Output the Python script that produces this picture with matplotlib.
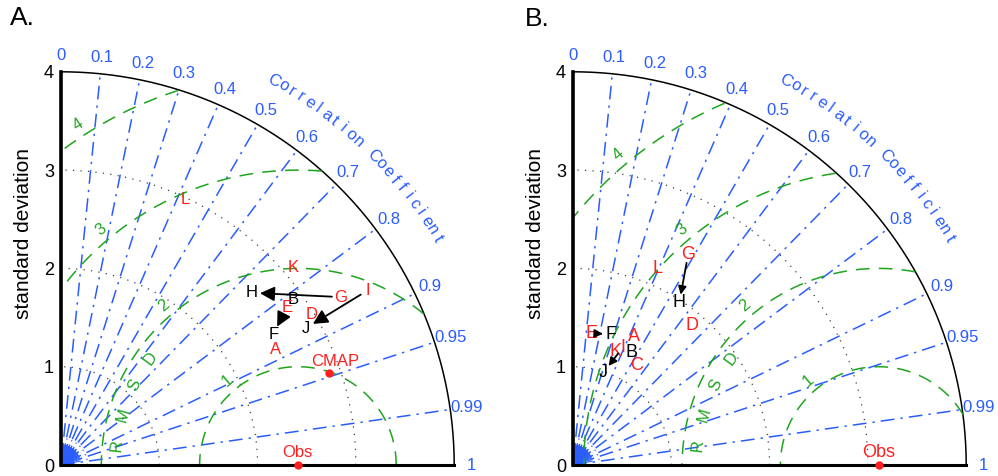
import numpy as np
import matplotlib.pyplot as plt

plt.rcParams['font.family'] = ['Liberation Sans', 'DejaVu Sans']

# correlation and std axes
corr_ticks = [0, 0.1, 0.2, 0.3, 0.4, 0.5, 0.6, 0.7, 0.8, 0.9, 0.95, 0.99, 1]
corr_labels = ['0', '0.1', '0.2', '0.3', '0.4', '0.5', '0.6', '0.7', '0.8', '0.9', '0.95', '0.99', '1']
corr_lines = [0.1, 0.2, 0.3, 0.4, 0.5, 0.6, 0.7, 0.8, 0.9, 0.95, 0.99]
std_ticks = [0, 1, 2, 3, 4]
std_circles = [1, 2, 3]
rmsd_levels = [1, 2, 3, 4]

# panel A
obs_a = 2.41
names_a = ['A', 'B', 'D', 'E', 'F', 'G', 'H', 'I', 'J', 'K', 'L']
std_a = [2.474, 2.897, 2.974, 2.802, 2.537, 3.315, 2.613, 3.592, 2.852, 3.100, 2.980]
corr_a = [0.881, 0.815, 0.857, 0.821, 0.851, 0.857, 0.742, 0.869, 0.873, 0.761, 0.423]
arrows_a = [('G', 'H'), ('I', 'J'), ('E', 'F')]
cmap_std = 2.887
cmap_corr = 0.946

# panel B
obs_b = 3.11
names_b = ['A', 'B', 'C', 'D', 'E', 'F', 'G', 'H', 'I', 'J', 'K', 'L']
std_b = [1.449, 1.284, 1.201, 1.866, 1.353, 1.386, 2.439, 1.972, 1.304, 0.990, 1.228, 2.177]
corr_b = [0.428, 0.460, 0.541, 0.648, 0.140, 0.281, 0.480, 0.548, 0.391, 0.313, 0.350, 0.395]
arrows_b = [('G', 'H'), ('E', 'F'), ('I', 'J')]

black_names = {'B', 'F', 'H', 'J'}

BLUE = '#2a5cff'
GREEN = '#1ea51e'
RED = '#ff1f1f'
RMAX = 4.0
PX = 98.3  # pixels per std unit


def xy(s, c):
    th = np.arccos(c)
    return s * np.cos(th), s * np.sin(th)


def taylor_panel(ax, obs, names, stds, corrs, arrows, fs, head):
    ax.set_xlim(0, 4.75)
    ax.set_ylim(0, 4.7)
    for side in ['top', 'right']:
        ax.spines[side].set_visible(False)
    ax.spines['left'].set_linewidth(2.6)
    ax.spines['bottom'].set_linewidth(2.2)
    ax.spines['left'].set_bounds(0, RMAX)
    ax.spines['bottom'].set_bounds(0, RMAX)
    ax.set_xticks([])
    ax.set_yticks(std_ticks)
    ax.tick_params(axis='y', length=0, pad=5, labelsize=13)
    ax.set_ylabel('standard deviation', fontsize=15, labelpad=8)

    th = np.linspace(0, np.pi / 2, 300)
    ax.plot(RMAX * np.cos(th), RMAX * np.sin(th), color='k', lw=1.1)

    # std circles
    for r in std_circles:
        ax.plot(r * np.cos(th), r * np.sin(th), color='0.25', lw=0.9,
                linestyle=(0, (1, 5)))
    ax.plot(0.27 * np.cos(th), 0.27 * np.sin(th), color=BLUE, lw=0.9,
            linestyle=(0, (1, 3)))

    # fan of minor correlation ticks at the origin
    for c in np.arange(0.0, 1.0, 0.02):
        x, y = xy(1.0, c)
        ax.plot([0.03 * x, 0.2 * x], [0.03 * y, 0.2 * y], color=BLUE, lw=0.8)

    # correlation rays
    for c in corr_lines:
        x, y = xy(RMAX, c)
        ax.plot([0, x], [0, y], color=BLUE, lw=1.1,
                linestyle=(0, (9, 4, 1.5, 4)))

    for c, lab in zip(corr_ticks, corr_labels):
        x, y = xy(4.17, c)
        ax.text(x, y, lab, color=BLUE, fontsize=12, ha='center', va='center',
                clip_on=False)

    # curved axis title
    title = 'Correlation Coefficient'
    angs = np.linspace(61.0, 31.0, len(title))
    for ch, a in zip(title, angs):
        ar = np.deg2rad(a)
        ax.text(4.47 * np.cos(ar), 4.47 * np.sin(ar), ch, color=BLUE,
                fontsize=12, rotation=a - 90, ha='center', va='center',
                rotation_mode='anchor', clip_on=False)

    # RMSD circles around the observation
    t = np.linspace(0, np.pi, 800)
    for r in rmsd_levels:
        x = obs + r * np.cos(t)
        y = r * np.sin(t)
        keep = (x >= 0) & (x ** 2 + y ** 2 <= RMAX ** 2)
        x = np.where(keep, x, np.nan)
        y = np.where(keep, y, np.nan)
        ax.plot(x, y, color=GREEN, lw=1.1, linestyle=(0, (9, 6)))

        rl = r + 0.12
        a = np.deg2rad(130)
        lx, ly = obs + rl * np.cos(a), rl * np.sin(a)
        if lx < 0.15:
            lx = 0.17
            ly = np.sqrt(rl ** 2 - (obs - lx) ** 2)
        rot = np.degrees(np.arctan2(ly, lx - obs)) - 90
        ax.text(lx, ly, str(r), color=GREEN, fontsize=12, rotation=rot,
                ha='center', va='center')

    for ch, a in zip('RMSD', [174, 164, 154, 144]):
        ar = np.deg2rad(a)
        ax.text(obs + 1.85 * np.cos(ar), 1.85 * np.sin(ar), ch, color=GREEN,
                fontsize=12, rotation=a - 90, ha='center', va='center')

    # model points
    pos = {}
    for n, s, c in zip(names, stds, corrs):
        x, y = xy(s, c)
        pos[n] = (x, y)
        ax.text(x, y, n, color='k' if n in black_names else RED, fontsize=fs,
                ha='center', va='center')
    for src, dst in arrows:
        ax.annotate('', xy=pos[dst], xytext=pos[src],
                    arrowprops=dict(arrowstyle='-|>', color='k', lw=1.3,
                                    mutation_scale=head, shrinkA=6, shrinkB=6))

    ax.plot([obs], [0], 'o', color=RED, ms=5, clip_on=False, zorder=5)
    ax.text(obs, 0.13, 'Obs', color=RED, fontsize=fs, ha='center', va='center')


fig = plt.figure(figsize=(9.98, 4.76), dpi=100)
w = 4.75 * PX / 998
h = 4.7 * PX / 476
ax_a = fig.add_axes([61 / 998, 11 / 476, w, h])
ax_b = fig.add_axes([573 / 998, 11 / 476, w, h])
for ax in (ax_a, ax_b):
    ax.patch.set_visible(False)

taylor_panel(ax_a, obs_a, names_a, std_a, corr_a, arrows_a, fs=12, head=22)
cx, cy = xy(cmap_std, cmap_corr)
ax_a.plot([cx], [cy], 'o', color=RED, ms=5, zorder=5)
ax_a.annotate('CMAP', (cx, cy), xytext=(4, 8), textcoords='offset points',
              color=RED, fontsize=12, ha='center', va='center')

taylor_panel(ax_b, obs_b, names_b, std_b, corr_b, arrows_b, fs=13, head=12)

fig.text(10 / 998, 1 - 18 / 476, 'A.', fontsize=19, va='center', ha='left')
fig.text(525 / 998, 1 - 19 / 476, 'B.', fontsize=19, va='center', ha='left')

fig.savefig('out.png', dpi=100)
